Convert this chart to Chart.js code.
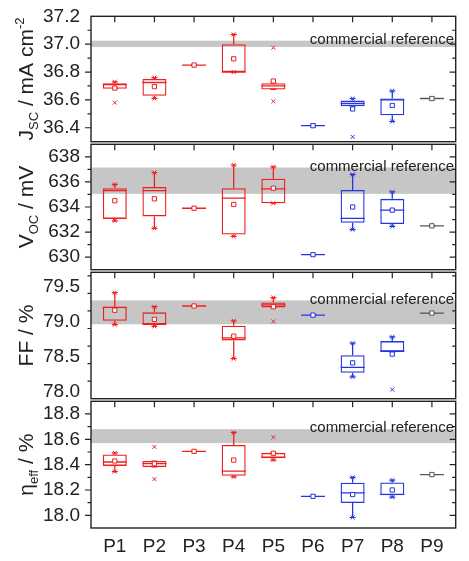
<!DOCTYPE html>
<html>
<head>
<meta charset="utf-8">
<script src="https://cdn.jsdelivr.net/npm/chart.js@4.4.0/dist/chart.umd.min.js"></script>
<style>
html, body { margin: 0; padding: 0; background: #fff; }
#wrap { position: relative; width: 469px; height: 561px; overflow: hidden; }
#wrap canvas { position: absolute; left: 0; }
</style>
</head>
<body>
<div id="wrap">
  <canvas id="c1"></canvas>
  <canvas id="c2"></canvas>
  <canvas id="c3"></canvas>
  <canvas id="c4"></canvas>
</div>
<script>
// categories
var cats = ['P1', 'P2', 'P3', 'P4', 'P5', 'P6', 'P7', 'P8', 'P9'];

// J_SC (mA cm-2)
var jscQ1   = [36.68, 36.63, 36.85, 36.80, 36.675, 36.415, 36.555, 36.49, 36.61];
var jscMed  = [36.71, 36.725, 36.85, 36.80, 36.70, 36.415, 36.575, 36.60, 36.61];
var jscQ3   = [36.72, 36.75, 36.85, 37.00, 36.72, 36.415, 36.595, 36.61, 36.61];
var jscLo   = [36.68, 36.61, 36.85, 36.80, 36.675, 36.415, 36.555, 36.445, 36.61];
var jscHi   = [36.73, 36.76, 36.85, 37.07, 36.72, 36.415, 36.61, 36.665, 36.61];
var jscMean = [36.685, 36.695, 36.85, 36.895, 36.735, 36.415, 36.535, 36.56, 36.61];
var jscMin  = [36.58, 36.61, 36.85, 36.80, 36.59, 36.415, 36.335, 36.445, 36.61];
var jscMax  = [36.73, 36.76, 36.85, 37.07, 36.975, 36.415, 36.61, 36.665, 36.61];
var jscRef  = [36.98, 37.025];

// V_OC (mV)
var vocQ1   = [633.05, 633.25, 633.9, 631.8, 634.3, 630.2, 632.75, 632.65, 632.5];
var vocMed  = [635.3, 635.3, 633.9, 634.7, 635.45, 630.2, 633.1, 633.75, 632.5];
var vocQ3   = [635.5, 635.6, 633.9, 635.5, 636.25, 630.2, 635.35, 634.65, 632.5];
var vocLo   = [632.9, 632.3, 633.9, 631.65, 634.3, 630.2, 632.2, 632.45, 632.5];
var vocHi   = [635.8, 636.75, 633.9, 637.35, 637.2, 630.2, 636.6, 635.2, 632.5];
var vocMean = [634.5, 634.65, 633.9, 634.2, 635.5, 630.2, 634.0, 633.75, 632.5];
var vocMin  = [632.9, 632.3, 633.9, 631.65, 634.3, 630.2, 632.2, 632.45, 632.5];
var vocMax  = [635.8, 636.75, 633.9, 637.35, 637.2, 630.2, 636.6, 635.2, 632.5];
var vocRef  = [635.05, 637.15];

// FF (%)
var ffQ1   = [79.01, 78.95, 79.22, 78.73, 79.20, 79.09, 78.27, 78.565, 79.12];
var ffMed  = [79.20, 78.97, 79.22, 78.765, 79.235, 79.09, 78.345, 78.58, 79.12];
var ffQ3   = [79.21, 79.13, 79.22, 78.94, 79.27, 79.09, 78.52, 78.72, 79.12];
var ffLo   = [78.955, 78.93, 79.22, 78.47, 79.20, 79.09, 78.21, 78.565, 79.12];
var ffHi   = [79.41, 79.21, 79.22, 79.01, 79.34, 79.09, 78.69, 78.78, 79.12];
var ffMean = [79.16, 79.03, 79.22, 78.79, 79.21, 79.09, 78.41, 78.535, 79.12];
var ffMin  = [78.955, 78.93, 79.22, 78.47, 79.00, 79.09, 78.21, 78.03, 79.12];
var ffMax  = [79.41, 79.21, 79.22, 79.01, 79.34, 79.09, 78.69, 78.78, 79.12];
var ffRef  = [78.96, 79.30];

// eta_eff (%)
var etaQ1   = [18.39, 18.382, 18.505, 18.312, 18.45, 18.15, 18.097, 18.159, 18.322];
var etaMed  = [18.421, 18.408, 18.505, 18.349, 18.46, 18.15, 18.177, 18.165, 18.322];
var etaQ3   = [18.481, 18.429, 18.505, 18.556, 18.493, 18.15, 18.258, 18.26, 18.322];
var etaLo   = [18.345, 18.382, 18.505, 18.304, 18.436, 18.15, 17.983, 18.143, 18.322];
var etaHi   = [18.493, 18.429, 18.505, 18.654, 18.493, 18.15, 18.30, 18.278, 18.322];
var etaMean = [18.429, 18.408, 18.505, 18.436, 18.49, 18.15, 18.164, 18.2, 18.322];
var etaMin  = [18.345, 18.286, 18.505, 18.304, 18.436, 18.15, 17.983, 18.143, 18.322];
var etaMax  = [18.493, 18.54, 18.505, 18.654, 18.616, 18.15, 18.30, 18.278, 18.322];
var etaRef  = [18.57, 18.68];

// y tick labels
var jscTicks = [36.4, 36.6, 36.8, 37.0, 37.2];
var vocTicks = [630, 632, 634, 636, 638];
var ffTicks  = [78.0, 78.5, 79.0, 79.5];
var etaTicks = [18.0, 18.2, 18.4, 18.6, 18.8];

var RED = '#ee1f1f', BLUE = '#2336e0', GREY = '#555555';
var colors = [RED, RED, RED, RED, RED, BLUE, BLUE, BLUE, GREY];
var FONT = '"Liberation Sans", Arial, sans-serif';
var INK = '#222';

// chart area tops (px), last bottom
var areaTops = [15, 143, 271, 400];
var lastBottom = 528;

function xy(arr) {
  return arr.map(function (v, i) { return { x: i + 1, y: v }; });
}

function makeDecor(p) {
  return {
    id: 'decor',
    beforeDatasetsDraw: function (chart) {
      var a = chart.chartArea, y = chart.scales.y, ctx = chart.ctx;
      var t = y.getPixelForValue(p.ref[1]), b = y.getPixelForValue(p.ref[0]);
      ctx.save();
      ctx.fillStyle = '#c6c6c6';
      ctx.fillRect(a.left, t, a.right - a.left, b - t);
      ctx.fillStyle = INK;
      ctx.font = '15px ' + FONT;
      ctx.textAlign = 'right';
      ctx.textBaseline = 'middle';
      ctx.fillText('commercial reference', 454, t - 1);
      ctx.restore();
    },
    afterDraw: function (chart) {
      var a = chart.chartArea, y = chart.scales.y, x = chart.scales.x, ctx = chart.ctx;
      ctx.save();
      ctx.strokeStyle = INK;
      ctx.lineWidth = 1.4;
      ctx.strokeRect(a.left, a.top, a.right - a.left, a.bottom - a.top);
      ctx.lineWidth = 1.2;
      ctx.beginPath();
      // minor + major y ticks
      var n = Math.round((p.max - p.min) / p.minor);
      for (var k = 0; k <= n; k++) {
        var v = p.min + k * p.minor;
        var isMajor = p.ticks.some(function (m) { return Math.abs(m - v) < p.minor / 10; });
        var py = y.getPixelForValue(v);
        if (py < a.top + 1 || py > a.bottom - 1) continue;
        var len = isMajor ? 6 : 3.5;
        ctx.moveTo(a.left - len, py); ctx.lineTo(a.left, py);
        ctx.moveTo(a.right - len, py); ctx.lineTo(a.right, py);
      }
      // category ticks at top, inward
      cats.forEach(function (c, i) {
        var px = x.getPixelForValue(i + 1);
        ctx.moveTo(px, a.top); ctx.lineTo(px, a.top + 6);
      });
      ctx.stroke();

      // axis title, rotated
      ctx.translate(33, (a.top + a.bottom) / 2);
      ctx.rotate(-Math.PI / 2);
      ctx.fillStyle = INK;
      ctx.textBaseline = 'alphabetic';
      var total = 0;
      p.title.forEach(function (s) {
        ctx.font = (s[1] ? '13px ' : '21px ') + FONT;
        total += ctx.measureText(s[0]).width;
      });
      var cx = -total / 2;
      p.title.forEach(function (s) {
        ctx.font = (s[1] ? '13px ' : '21px ') + FONT;
        var dy = s[1] === 'sub' ? 5 : (s[1] === 'sup' ? -9 : 0);
        ctx.fillText(s[0], cx, dy);
        cx += ctx.measureText(s[0]).width;
      });
      ctx.restore();
    }
  };
}

function buildPanel(id, idx, p) {
  var last = idx === 3;
  var top = areaTops[idx] - 12;
  var h = last ? 561 - top : (areaTops[idx + 1] + 12) - top;
  var cv = document.getElementById(id);
  cv.width = 469; cv.height = h;
  cv.style.width = '469px'; cv.style.height = h + 'px';
  cv.style.top = top + 'px';

  var whisk = [];
  cats.forEach(function (c, i) {
    whisk.push({ x: i + 1, y: p.lo[i] }, { x: i + 1, y: p.q1[i] }, { x: i + 1, y: null });
    whisk.push({ x: i + 1, y: p.q3[i] }, { x: i + 1, y: p.hi[i] }, { x: i + 1, y: null });
  });

  new Chart(cv, {
    type: 'bar',
    data: {
      datasets: [
        { // mean
          type: 'scatter', data: xy(p.mean), pointStyle: 'rect', pointRadius: 3,
          pointBackgroundColor: '#fff', pointBorderColor: colors, pointBorderWidth: 1
        },
        { // min / max
          type: 'scatter', data: xy(p.mn).concat(xy(p.mx)), pointStyle: 'crossRot', pointRadius: 2.8,
          pointBorderColor: colors.concat(colors), pointBorderWidth: 1
        },
        { // whisker caps
          type: 'scatter', data: xy(p.lo).concat(xy(p.hi)), pointStyle: 'line', pointRadius: 3,
          pointBorderColor: colors.concat(colors), pointBorderWidth: 1.2
        },
        { // median
          type: 'scatter', data: xy(p.med), pointStyle: 'line', pointRadius: 12,
          pointBorderColor: colors, pointBorderWidth: 1.3
        },
        { // whiskers
          type: 'line', data: whisk, pointRadius: 0, borderWidth: 1.3, spanGaps: false,
          borderCapStyle: 'butt', borderColor: GREY,
          segment: { borderColor: function (c) { return colors[Math.round(c.p0.parsed.x) - 1]; } }
        },
        { // boxes
          type: 'bar',
          data: cats.map(function (c, i) { return { x: i + 1, y: [p.q1[i], p.q3[i]] }; }),
          backgroundColor: 'rgba(0,0,0,0)', borderColor: colors, borderWidth: 1.3,
          borderSkipped: false, barThickness: 24, inflateAmount: 0
        }
      ]
    },
    options: {
      responsive: false,
      animation: false,
      events: [],
      layout: { padding: { top: 12, bottom: last ? 0 : 12, left: 0, right: 3 } },
      plugins: { legend: { display: false }, tooltip: { enabled: false } },
      scales: {
        x: {
          type: 'linear', min: 0.4, max: 9.6, offset: false, display: last,
          grid: { display: false, drawTicks: false, offset: false }, border: { display: false },
          afterBuildTicks: function (s) { s.ticks = cats.map(function (c, i) { return { value: i + 1 }; }); },
          afterFit: function (s) {
            if (last) s.height = 561 - lastBottom;
            s.paddingLeft = 0; s.paddingRight = 0;
          },
          ticks: {
            padding: 7, color: INK, font: { family: FONT, size: 19 }, maxRotation: 0,
            callback: function (v) { return cats[Math.round(v) - 1]; }
          }
        },
        y: {
          type: 'linear', min: p.min, max: p.max, beginAtZero: false,
          grid: { display: false, drawTicks: false }, border: { display: false },
          afterBuildTicks: function (s) { s.ticks = p.ticks.map(function (v) { return { value: v }; }); },
          afterFit: function (s) { s.width = 91; s.paddingTop = 0; s.paddingBottom = 0; },
          ticks: {
            padding: 11, color: INK, font: { family: FONT, size: 19 },
            callback: function (v) { return Number(v).toFixed(p.dec); }
          }
        }
      }
    },
    plugins: [makeDecor(p)]
  });
}

buildPanel('c1', 0, {
  q1: jscQ1, med: jscMed, q3: jscQ3, lo: jscLo, hi: jscHi, mean: jscMean, mn: jscMin, mx: jscMax,
  ref: jscRef, min: 36.3, max: 37.2, ticks: jscTicks, minor: 0.1, dec: 1,
  title: [['J'], ['SC', 'sub'], [' / mA cm'], ['-2', 'sup']]
});
buildPanel('c2', 1, {
  q1: vocQ1, med: vocMed, q3: vocQ3, lo: vocLo, hi: vocHi, mean: vocMean, mn: vocMin, mx: vocMax,
  ref: vocRef, min: 629, max: 639, ticks: vocTicks, minor: 1, dec: 0,
  title: [['V'], ['OC', 'sub'], [' / mV']]
});
buildPanel('c3', 2, {
  q1: ffQ1, med: ffMed, q3: ffQ3, lo: ffLo, hi: ffHi, mean: ffMean, mn: ffMin, mx: ffMax,
  ref: ffRef, min: 77.9, max: 79.7, ticks: ffTicks, minor: 0.25, dec: 1,
  title: [['FF / %']]
});
buildPanel('c4', 3, {
  q1: etaQ1, med: etaMed, q3: etaQ3, lo: etaLo, hi: etaHi, mean: etaMean, mn: etaMin, mx: etaMax,
  ref: etaRef, min: 17.9, max: 18.9, ticks: etaTicks, minor: 0.1, dec: 1,
  title: [['η'], ['eff', 'sub'], [' / %']]
});
</script>
</body>
</html>
